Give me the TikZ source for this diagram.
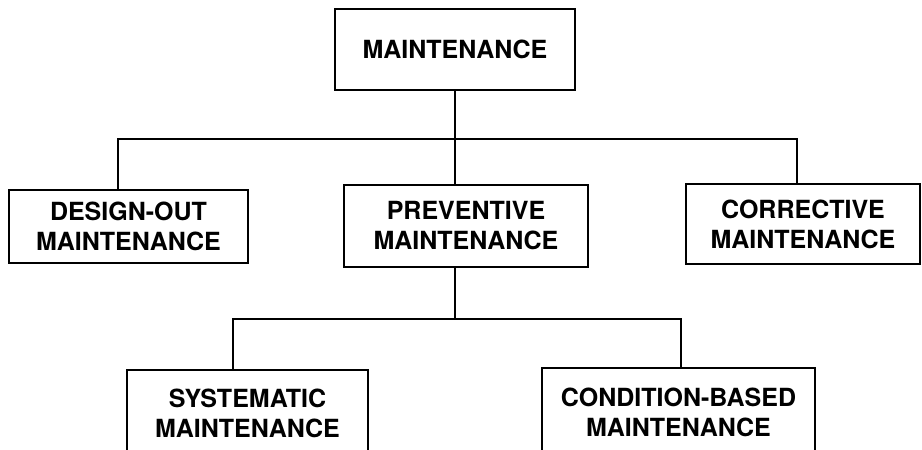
\documentclass[tikz,border=0pt]{standalone}
\usepackage{fontspec}
\setmainfont{TeX Gyre Heros}
\usepackage{tikz}

\begin{document}
\begin{tikzpicture}[x=1pt, y=1pt, line width=2.6pt,
		box/.style={draw, rectangle, align=center, inner sep=0pt,
			font=\bfseries\fontsize{25}{30}\selectfont}]
				\useasboundingbox (0, 0) rectangle (922, 450);
				\clip (0, 0) rectangle (922, 450);
				\path (455, 400.5) node[box, minimum width=240, minimum height=81] (mnt){MAINTENANCE}
				(128.5, 223.5) node[box, minimum width=239, minimum height=73] (dsg){DESIGN-OUT\\MAINTENANCE}
				(466, 224) node[box, minimum width=244, minimum height=82] (prv){PREVENTIVE\\MAINTENANCE}
				(803, 226) node[box, minimum width=234, minimum height=80] (crr){CORRECTIVE\\MAINTENANCE}
				(247.5, 37) node[box, minimum width=241, minimum height=86] (sys){SYSTEMATIC\\MAINTENANCE}
				(678.5, 38) node[box, minimum width=273, minimum height=88] (cbm){CONDITION-BASED\\MAINTENANCE};
				\coordinate (bus1) at (455, 311);
				\coordinate (bus2) at (455, 131);
				
				\draw (mnt.south) -- (bus1) -- ([xshift=-11pt]prv.north)
				([xshift=-10.5pt]dsg.north) |- (bus1) -| ([xshift=-6pt]crr.north);
				\draw ([xshift=-11pt]prv.south) -- (bus2)
				([xshift=-14.5pt]sys.north) |- (bus2) -| ([xshift=2.5pt]cbm.north);
			\end{tikzpicture}
\end{document}
